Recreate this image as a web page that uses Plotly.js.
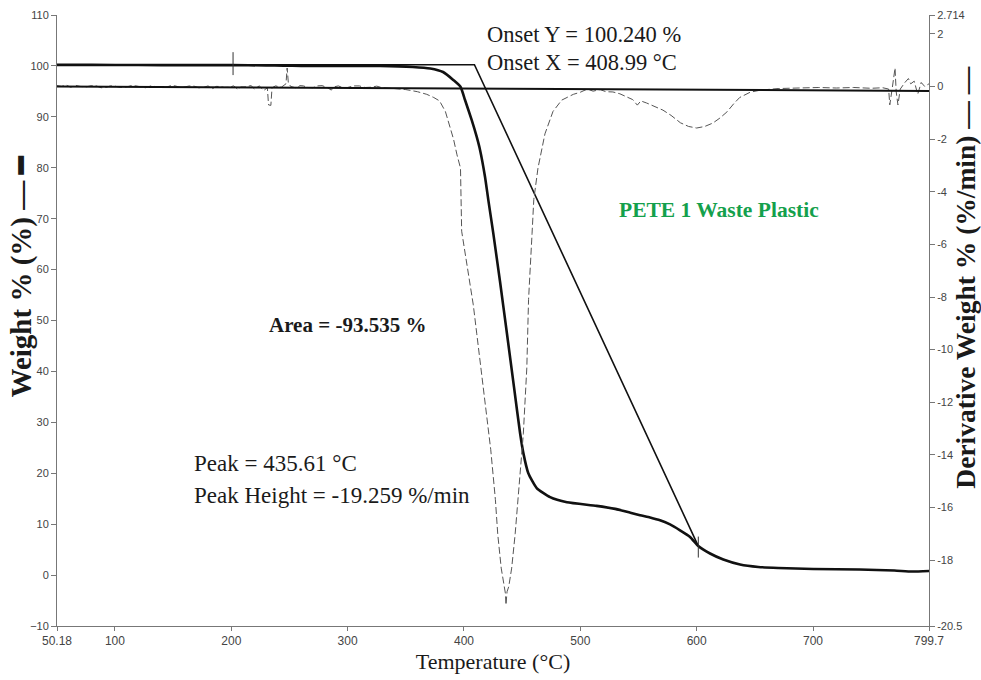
<!DOCTYPE html>
<html>
<head>
<meta charset="utf-8">
<script src="https://cdn.plot.ly/plotly-3.0.1.min.js"></script>
<style>html,body{margin:0;padding:0;background:#fff;}#chart{width:981px;height:680px;}</style>
</head>
<body>
<div id="chart"></div>
<script>
// ---- Data ----
// Weight % (TGA) curve, left axis
const tgaT = [50.18, 80, 120, 160, 200, 230, 245, 260, 290, 328, 356, 371, 382, 391, 397, 400.9, 406.6, 410.9, 413.8, 418.1, 420.9, 425.2, 431, 436.9, 443, 448.2, 451, 455.3, 462.5, 474, 488.5, 514, 530, 543, 551.3, 559.9, 568.5, 577.1, 585.7, 594.3, 601.4, 611.5, 622.9, 637.3, 653, 670, 700, 740, 770, 785, 799.7];
const tgaW = [100.2, 100.2, 100.18, 100.15, 100.15, 100.1, 100.05, 100.0, 100.0, 100.0, 99.8, 99.5, 98.8, 97.2, 95.9, 93.3, 89.4, 86.1, 83.5, 78.2, 73.7, 67.1, 57.6, 47.5, 36.9, 27.9, 24.0, 20.0, 17.1, 15.3, 14.3, 13.6, 13.0, 12.25, 11.75, 11.3, 10.75, 9.95, 8.8, 7.5, 5.7, 4.24, 3.06, 2.08, 1.6, 1.4, 1.2, 1.1, 0.9, 0.7, 0.8];

// Derivative weight (DTG) curve, right axis
const dtgT = [50.18, 54, 58, 62, 66, 70, 75, 80, 84, 88, 92, 96, 100, 105, 110, 114, 118, 122, 126, 131, 135, 140, 144, 148, 152, 156, 160, 164, 168, 172, 176, 180, 184, 187, 190, 194, 198, 202, 206, 208, 211, 214, 217, 220, 224, 228, 231, 232, 234, 235, 238, 243, 247, 248, 249, 251, 256, 259, 262, 266, 270, 274, 278, 282, 286, 288, 292, 296, 300, 305, 310, 315, 320, 325, 330, 340, 350, 360, 368, 374, 379, 384, 388, 391, 394, 397, 398, 403, 408, 411, 416, 421, 423, 427, 429, 432, 434, 435.6, 436.1, 437, 438.5, 441, 444, 446.5, 451, 454, 455.5, 458.5, 460, 463.6, 469.6, 476.5, 484, 489, 494, 500, 506, 511, 517, 522, 528, 534, 540, 545, 549, 552, 557, 564, 571, 578, 586, 593, 600, 607, 614, 620, 626, 632, 637, 646, 655, 670, 689, 705, 720, 735, 750, 760, 765, 766, 768, 770.5, 771.5, 773, 775, 777, 779, 782, 784, 787, 790, 793, 796, 799.7];
const dtgV = [0.03, 0.0, 0.05, -0.03, 0.04, 0.0, -0.02, 0.03, 0.02, -0.05, -0.04, 0.02, 0.01, -0.04, -0.02, 0.03, 0.02, -0.03, -0.05, 0.02, 0.0, -0.04, -0.03, 0.03, 0.02, -0.04, -0.02, 0.02, 0.01, -0.05, -0.04, 0.02, -0.08, 0.0, 0.0, -0.04, -0.03, 0.02, -0.12, -0.02, -0.02, 0.0, 0.03, -0.1, 0.02, -0.15, -0.05, -0.7, -0.72, -0.05, 0.02, -0.03, 0.1, 0.7, 0.15, 0.0, -0.06, 0.03, 0.02, -0.04, -0.05, 0.02, 0.03, -0.03, -0.14, -0.02, 0.02, -0.05, -0.04, 0.02, 0.02, -0.04, -0.03, 0.01, -0.05, -0.08, -0.12, -0.2, -0.3, -0.42, -0.55, -0.95, -1.5, -2.0, -2.6, -3.1, -5.5, -6.9, -8.3, -9.4, -11.3, -13.2, -13.8, -15.7, -17.0, -18.3, -18.9, -19.26, -19.7, -19.2, -19.0, -18.3, -17.0, -15.7, -13.2, -10.7, -8.1, -5.6, -4.3, -3.1, -1.8, -0.95, -0.52, -0.41, -0.3, -0.22, -0.1, -0.18, -0.12, -0.2, -0.21, -0.28, -0.4, -0.5, -0.71, -0.55, -0.63, -0.75, -0.9, -1.1, -1.38, -1.52, -1.58, -1.52, -1.39, -1.2, -0.97, -0.65, -0.42, -0.22, -0.14, -0.08, -0.05, -0.04, -0.06, -0.04, -0.07, -0.05, -0.1, -0.7, -0.1, 0.7, -0.2, -0.7, -0.1, 0.05, 0.15, 0.3, 0.1, 0.2, -0.3, 0.15, 0.0, 0.1];

// DTG integration baseline (start, end)
const baseT = [50.18, 799.7];
const baseV = [0.0, -0.17];

// Onset construction
const onsetX = 408.99;
const onsetY = 100.240;
const onsetLineT = [50.18, onsetX, 601.4];
const onsetLineW = [onsetY, onsetY, 5.7];

// Step analysis limit markers (temperature, weight at marker, half length)
const markT = [201.5, 601.4];
const markW = [100.45, 5.5];
const markHalf = [2.25, 2.06];

// Axis ticks
const xTicks = [50.18, 100, 200, 300, 400, 500, 600, 700, 799.7];
const xTickText = ['50.18', '100', '200', '300', '400', '500', '600', '700', '799.7'];
const yTicks = [-10, 0, 10, 20, 30, 40, 50, 60, 70, 80, 90, 100, 110];
const y2Ticks = [2.714, 2, 0, -2, -4, -6, -8, -10, -12, -14, -16, -18, -20.5];
const y2TickText = ['2.714', '2', '0', '-2', '-4', '-6', '-8', '-10', '-12', '-14', '-16', '-18', '-20.5'];

// Texts
const peakT = 435.61;
const peakH = -19.259;
const area = -93.535;
const sampleName = 'PETE 1 Waste Plastic';
const xTitle = 'Temperature (°C)';
const yTitle = 'Weight % (%)';
const y2Title = 'Derivative Weight % (%/min)';

// ---- Build ----
const serif = 'Liberation Serif, Times New Roman, serif';
const sans = 'Liberation Sans, Arial, sans-serif';
const narrow = 'Liberation Sans Narrow, Arial Narrow, Liberation Sans, Arial, sans-serif';

const traces = [
  { x: dtgT, y: dtgV, yaxis: 'y2', mode: 'lines', line: { color: '#555', width: 1, dash: '7px,3px' }, hoverinfo: 'skip' },
  { x: baseT, y: baseV, yaxis: 'y2', mode: 'lines', line: { color: '#111', width: 2 }, hoverinfo: 'skip' },
  { x: onsetLineT, y: onsetLineW, mode: 'lines', line: { color: '#111', width: 1.6 }, hoverinfo: 'skip' },
  { x: tgaT, y: tgaW, mode: 'lines', line: { color: '#111', width: 2.6, shape: 'spline', smoothing: 0.5 }, hoverinfo: 'skip' }
];
markT.forEach((t, i) => {
  traces.push({ x: [t, t], y: [markW[i] - markHalf[i], markW[i] + markHalf[i]], mode: 'lines', line: { color: '#333', width: 1 }, hoverinfo: 'skip' });
});

const annFont = { family: serif, size: 22.5, color: '#1a1a1a' };
const peakFont = { family: serif, size: 23, color: '#1a1a1a' };
const annotations = [
  { x: onsetX + 9, y: 106.1, xref: 'x', yref: 'y', xanchor: 'left', yanchor: 'middle', showarrow: false, text: 'Onset Y = ' + onsetY.toFixed(3) + ' %', font: annFont },
  { x: onsetX + 9, y: 100.6, xref: 'x', yref: 'y', xanchor: 'left', yanchor: 'middle', showarrow: false, text: 'Onset X = ' + onsetX.toFixed(2) + ' °C', font: annFont },
  { x: 230.7, y: 49.1, xref: 'x', yref: 'y', xanchor: 'left', yanchor: 'middle', showarrow: false, text: '<b>Area = ' + area.toFixed(3) + ' %</b>', font: { family: serif, size: 21, color: '#1a1a1a' } },
  { x: 166.2, y: 22.0, xref: 'x', yref: 'y', xanchor: 'left', yanchor: 'middle', showarrow: false, text: 'Peak = ' + peakT.toFixed(2) + ' °C', font: peakFont },
  { x: 166.2, y: 15.7, xref: 'x', yref: 'y', xanchor: 'left', yanchor: 'middle', showarrow: false, text: 'Peak Height = ' + peakH.toFixed(3) + ' %/min', font: peakFont },
  { x: 531.5, y: 71.7, xref: 'x', yref: 'y', xanchor: 'left', yanchor: 'middle', showarrow: false, text: '<b>' + sampleName + '</b>', font: { family: serif, size: 21.5, color: '#14a04c' } },
  // axis titles
  { x: -0.0413, y: 0.5737, xref: 'paper', yref: 'paper', xanchor: 'center', yanchor: 'middle', textangle: -90, showarrow: false,
    text: '<b>' + yTitle + ' — ━</b>', font: { family: serif, size: 29, color: '#1a1a1a' } },
  { x: 1.0415, y: 0.5704, xref: 'paper', yref: 'paper', xanchor: 'center', yanchor: 'middle', textangle: -90, showarrow: false,
    text: '<b>' + y2Title + ' — —</b>', font: { family: serif, size: 27.5, color: '#1a1a1a' } }
];

const layout = {
  width: 981, height: 680,
  margin: { l: 57, r: 52, t: 15, b: 54 },
  paper_bgcolor: '#fff', plot_bgcolor: '#fff',
  showlegend: false,
  xaxis: {
    range: [50.18, 799.7], tickmode: 'array', tickvals: xTicks, ticktext: xTickText,
    ticks: 'outside', ticklen: 4, tickcolor: '#777', showline: true, linecolor: '#777', linewidth: 1,
    showgrid: false, zeroline: false, tickfont: { family: narrow, size: 12, color: '#444' },
    title: { text: xTitle, font: { family: serif, size: 22, color: '#1a1a1a' }, standoff: 6 }
  },
  yaxis: {
    range: [-10, 110], tickmode: 'array', tickvals: yTicks,
    ticks: 'outside', ticklen: 5, tickcolor: '#777', showline: true, linecolor: '#777', linewidth: 1,
    showgrid: false, zeroline: false, tickfont: { family: sans, size: 11, color: '#444' }
  },
  yaxis2: {
    overlaying: 'y', side: 'right', range: [-20.5, 2.714], tickmode: 'array', tickvals: y2Ticks, ticktext: y2TickText,
    ticks: 'outside', ticklen: 5, tickcolor: '#777', showline: true, linecolor: '#777', linewidth: 1,
    showgrid: false, zeroline: false, tickfont: { family: sans, size: 11, color: '#444' }
  },
  annotations: annotations
};

Plotly.newPlot('chart', traces, layout, { displayModeBar: false, staticPlot: true });
</script>
</body>
</html>
